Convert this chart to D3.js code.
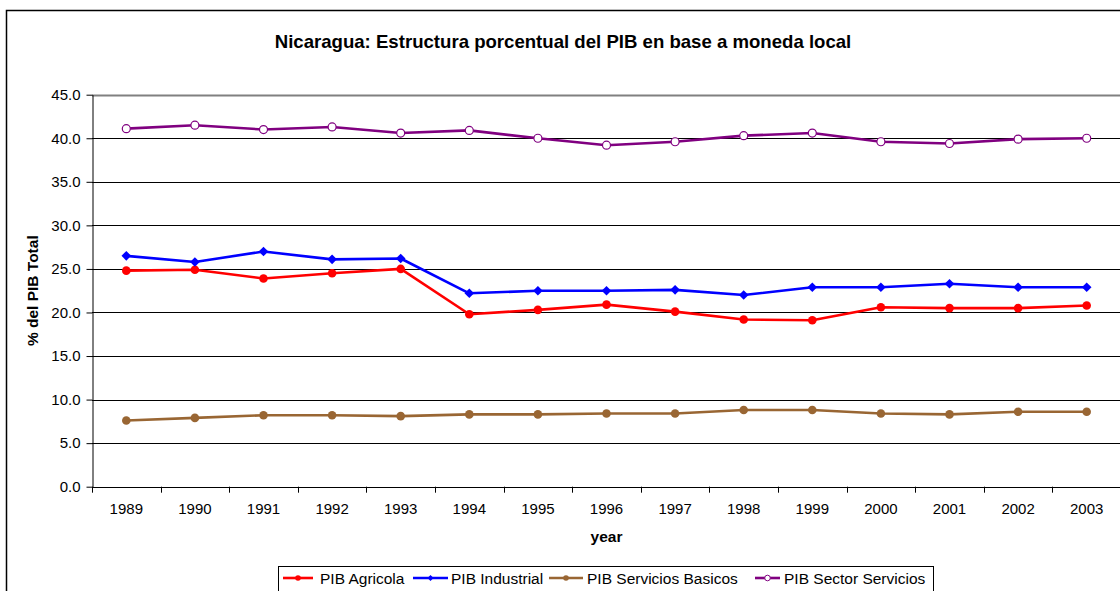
<!DOCTYPE html>
<html>
<head>
<meta charset="utf-8">
<script src="https://cdn.jsdelivr.net/npm/d3@7/dist/d3.min.js"></script>
<style>
	body { margin: 0; background: #fff; }
	svg { display: block; font-family: 'Liberation Sans', Arial, sans-serif; }
</style>
</head>
<body>
<div id="chart"></div>
<script>
// Data
const years = ['1989', '1990', '1991', '1992', '1993', '1994', '1995', '1996', '1997', '1998', '1999', '2000', '2001', '2002', '2003'];
const agricola = [24.8, 24.9, 23.9, 24.5, 25.0, 19.8, 20.3, 20.9, 20.1, 19.2, 19.1, 20.6, 20.5, 20.5, 20.8];
const industrial = [26.5, 25.8, 27.0, 26.1, 26.2, 22.2, 22.5, 22.5, 22.6, 22.0, 22.9, 22.9, 23.3, 22.9, 22.9];
const serviciosBasicos = [7.6, 7.9, 8.2, 8.2, 8.1, 8.3, 8.3, 8.4, 8.4, 8.8, 8.8, 8.4, 8.3, 8.6, 8.6];
const sectorServicios = [41.1, 41.5, 41.0, 41.3, 40.6, 40.9, 40.0, 39.2, 39.6, 40.3, 40.6, 39.6, 39.4, 39.9, 40.0];
const yTicks = [0, 5, 10, 15, 20, 25, 30, 35, 40, 45];

const series = [
	{ name: 'PIB Agricola', values: agricola, color: '#ff0000', marker: 'circle' },
	{ name: 'PIB Industrial', values: industrial, color: '#0000ff', marker: 'diamond' },
	{ name: 'PIB Servicios Basicos', values: serviciosBasicos, color: '#996633', marker: 'circle' },
	{ name: 'PIB Sector Servicios', values: sectorServicios, color: '#800080', marker: 'hollow' },
];

const width = 1120;
const height = 591;
const plot = { left: 92, right: 1121, top: 94.7, bottom: 486.7 };

const svg = d3.select('#chart').append('svg').attr('width', width).attr('height', height);

// Outer chart border (runs off the right and bottom of the view)
svg.append('rect').attr('x', 6.5).attr('y', 10.5).attr('width', 1200).attr('height', 700)
	.attr('fill', '#fff').attr('stroke', '#000').attr('stroke-width', 1.5);

// Scales
const x = d3.scaleBand().domain(years).range([plot.left, plot.right]).padding(0);
const y = d3.scaleLinear().domain([0, 45]).range([plot.bottom, plot.top]);
const cx = (d, i) => x(years[i]) + x.bandwidth() / 2;

// Gridlines
svg.append('g').selectAll('line').data(yTicks.filter((t) => t > 0)).enter().append('line')
	.attr('x1', plot.left).attr('x2', plot.right)
	.attr('y1', (d) => Math.round(y(d)) + 0.5).attr('y2', (d) => Math.round(y(d)) + 0.5)
	.attr('stroke', (d) => (d === 45 ? '#808080' : '#000'))
	.attr('stroke-width', (d) => (d === 45 ? 2 : 1));

// Y axis
const yAxis = svg.append('g').attr('transform', `translate(${plot.left + 0.5},0)`)
	.call(d3.axisLeft(y).tickValues(yTicks).tickFormat(d3.format('.1f')).tickSize(6).tickSizeOuter(0).tickPadding(6));
yAxis.selectAll('text').attr('font-size', 15).attr('fill', '#000').attr('font-family', "'Liberation Sans', Arial, sans-serif");
yAxis.selectAll('line, path').attr('stroke', '#000');

// X axis: baseline, ticks at category boundaries, labels centred
const xg = svg.append('g');
xg.append('line').attr('x1', plot.left).attr('x2', plot.right)
	.attr('y1', Math.round(plot.bottom) + 0.5).attr('y2', Math.round(plot.bottom) + 0.5).attr('stroke', '#000');
const bounds = years.map((d) => x(d)).concat([plot.right]);
xg.selectAll('.tick').data(bounds).enter().append('line')
	.attr('x1', (d) => Math.round(d) + 0.5).attr('x2', (d) => Math.round(d) + 0.5)
	.attr('y1', plot.bottom).attr('y2', plot.bottom + 6).attr('stroke', '#000');
xg.selectAll('text').data(years).enter().append('text')
	.attr('x', (d) => x(d) + x.bandwidth() / 2).attr('y', 514)
	.attr('text-anchor', 'middle').attr('font-size', 15).text((d) => d);

// Lines and markers
const line = d3.line().x(cx).y((d) => y(d));
const diamondPath = (r) => `M0,${-r}L${r},0L0,${r}L${-r},0Z`;

series.forEach((s) => {
	const g = svg.append('g');
	g.append('path').datum(s.values).attr('d', line)
		.attr('fill', 'none').attr('stroke', s.color).attr('stroke-width', 2.6).attr('stroke-linejoin', 'round');
	if (s.marker === 'diamond') {
		g.selectAll('path.m').data(s.values).enter().append('path').attr('class', 'm')
			.attr('d', diamondPath(4.8)).attr('transform', (d, i) => `translate(${cx(d, i)},${y(d)})`).attr('fill', s.color);
	} else {
		g.selectAll('circle').data(s.values).enter().append('circle')
			.attr('cx', cx).attr('cy', (d) => y(d)).attr('r', s.marker === 'hollow' ? 4 : 4.3)
			.attr('fill', s.marker === 'hollow' ? '#fff' : s.color)
			.attr('stroke', s.color).attr('stroke-width', s.marker === 'hollow' ? 1.2 : 0);
	}
});

// Titles
svg.append('text').attr('x', 563).attr('y', 48).attr('text-anchor', 'middle')
	.attr('font-size', 18.6).attr('font-weight', 'bold').text('Nicaragua: Estructura porcentual del PIB en base a moneda local');
svg.append('text').attr('transform', `translate(38,${(plot.top + plot.bottom) / 2}) rotate(-90)`)
	.attr('text-anchor', 'middle').attr('font-size', 15.5).attr('font-weight', 'bold').text('% del PIB Total');
svg.append('text').attr('x', (plot.left + plot.right) / 2).attr('y', 542).attr('text-anchor', 'middle')
	.attr('font-size', 15.5).attr('font-weight', 'bold').text('year');

// Legend
const legend = svg.append('g');
legend.append('rect').attr('x', 278.5).attr('y', 566.5).attr('width', 655).attr('height', 40)
	.attr('fill', '#fff').attr('stroke', '#000').attr('stroke-width', 1);
const legendLine = [[283, 313], [413, 448], [549, 583], [755, 780]];
const legendText = [320, 451, 587, 784];
series.forEach((s, i) => {
	const lg = legend.append('g').attr('transform', 'translate(0,578)');
	const [a, b] = legendLine[i];
	lg.append('line').attr('x1', a).attr('x2', b).attr('stroke', s.color).attr('stroke-width', 2.6);
	if (s.marker === 'diamond') {
		lg.append('path').attr('d', diamondPath(3)).attr('transform', `translate(${(a + b) / 2},0)`).attr('fill', s.color);
	} else {
		lg.append('circle').attr('cx', (a + b) / 2).attr('r', 2.8)
			.attr('fill', s.marker === 'hollow' ? '#fff' : s.color).attr('stroke', s.color).attr('stroke-width', s.marker === 'hollow' ? 1 : 0);
	}
	lg.append('text').attr('x', legendText[i]).attr('y', 5.5).attr('font-size', 15.5)
		.attr('textLength', null).text(s.name);
});
</script>
</body>
</html>
